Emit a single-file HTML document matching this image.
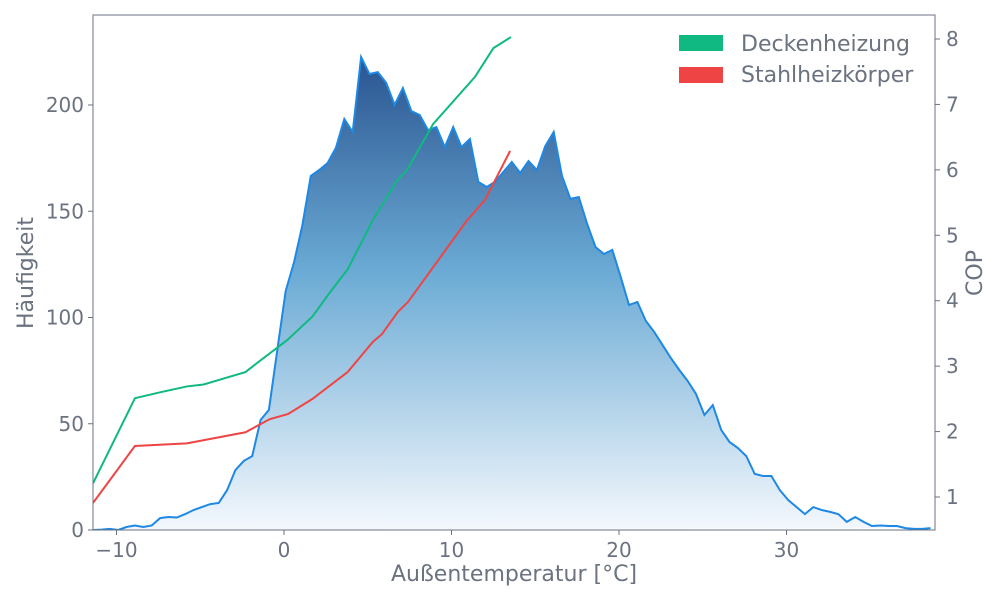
<!DOCTYPE html>
<html><head><meta charset="utf-8"><style>
body{margin:0;background:#fff;font-family:"DejaVu Sans",sans-serif}
svg text{fill:#6b7280;font-family:"DejaVu Sans",sans-serif}
</style></head><body>
<svg id="chart" width="1000" height="600" xmlns="http://www.w3.org/2000/svg">
<defs>
<linearGradient id="g" x1="0" y1="0" x2="0" y2="1"><stop offset="0" stop-color="#2a5490"/><stop offset="0.45" stop-color="#6aaad4"/><stop offset="1" stop-color="#f4f8fd"/></linearGradient>
<clipPath id="clip"><rect x="93" y="15" width="842" height="515"/></clipPath>
</defs>
<g id="plot" clip-path="url(#clip)"></g>
<g id="axes"></g>
</svg>
<script>
const histTemps=[];for(let i=0;i<102;i++)histTemps.push(-11.4+0.5*i);
const histCounts=[0,0.2,0.5,0,1.4,2.1,1.4,2.1,5.6,6.1,5.9,7.5,9.4,10.8,12.2,12.7,18.8,28.2,32.5,34.8,51.8,56.5,84.7,112.5,126.1,143.5,166.6,169.4,172.7,179.8,193.4,187.3,222.6,214.6,215.5,210.4,200,208,197.2,195.3,188.2,189.6,180.2,189.6,180.2,184,163.8,161.4,163.8,168.5,173.2,168,173.6,169.4,180.7,187.3,166.6,155.8,156.7,144,133.2,129.9,131.8,119.1,105.9,107.3,98.4,93.2,87.1,80.9,75.3,70.1,64,54.1,58.8,47.1,41.4,38.6,34.8,26.4,25.4,25.4,18.8,14.1,10.8,7.5,10.8,9.4,8.5,7.5,3.8,6.1,3.8,1.9,2.1,1.9,1.9,0.9,0.5,0.5,0.9];
const deckeTemps=[-11.4,-8.9,-7.4,-5.8,-4.8,-2.3,-1.85,0.2,1.7,2.75,3.8,5.3,6.75,7.35,8.9,11.4,12.5,13.55];
const deckeCop=[1.21,2.51,2.6,2.69,2.72,2.91,3.0,3.4,3.76,4.13,4.48,5.23,5.84,6.0,6.7,7.42,7.86,8.03];
const stahlTemps=[-11.4,-8.9,-5.8,-2.3,-0.85,0.25,1.7,3.8,5.3,5.85,6.8,7.4,8.9,10.9,12.0,13.5];
const stahlCop=[0.91,1.78,1.82,1.99,2.19,2.27,2.5,2.91,3.37,3.49,3.83,3.98,4.51,5.22,5.54,6.29];
const xTicks=[-10,0,10,20,30];
const yTicks=[0,50,100,150,200];
const y2Ticks=[1,2,3,4,5,6,7,8];
const X0=93,X1=935,Y0=530,Y1=15;
const xS=t=>284+(t-0)*16.75;
const yS=v=>530-v*2.125;
const y2S=c=>39+(8-c)*65.43;
const NS='http://www.w3.org/2000/svg';
function mk(tag,attrs,parent,txt){const e=document.createElementNS(NS,tag);for(const k in attrs)e.setAttribute(k,attrs[k]);if(txt!==undefined)e.textContent=txt;parent.appendChild(e);return e;}
const plot=document.getElementById('plot'),axes=document.getElementById('axes');
let pts=histTemps.map((t,i)=>xS(t).toFixed(1)+','+yS(histCounts[i]).toFixed(1));
const area=mk('path',{d:'M'+xS(histTemps[0])+','+Y0+' L'+pts.join(' L')+' L'+xS(histTemps[histTemps.length-1])+','+Y0+' Z',fill:'url(#g)'},plot);


const hl=mk('polyline',{points:pts.join(' '),fill:'none',stroke:'#1e88e5','stroke-width':2},plot);


const gl=mk('polyline',{points:deckeTemps.map((t,i)=>xS(t)+','+y2S(deckeCop[i])).join(' '),fill:'none',stroke:'#10b981','stroke-width':2},plot);


const rl=mk('polyline',{points:stahlTemps.map((t,i)=>xS(t)+','+y2S(stahlCop[i])).join(' '),fill:'none',stroke:'#ef4444','stroke-width':2},plot);


const fr=mk('rect',{x:X0,y:Y1,width:X1-X0,height:Y0-Y1,fill:'none',stroke:'#6b7280','stroke-width':1},axes);


xTicks.forEach(t=>{const x=xS(t);mk('line',{x1:x,x2:x,y1:Y0,y2:Y0+5,stroke:'#6b7280'},axes);
const l=mk('text',{x:x,y:557,'text-anchor':'middle','font-size':20},axes,t<0?'\u2212'+Math.abs(t):String(t));

});
yTicks.forEach(v=>{const y=yS(v);mk('line',{x1:X0-5,x2:X0,y1:y,y2:y,stroke:'#6b7280'},axes);
const l=mk('text',{x:84,y:y+7,'text-anchor':'end','font-size':20},axes,String(v));

});
y2Ticks.forEach(v=>{const y=y2S(v);mk('line',{x1:X1,x2:X1+5,y1:y,y2:y,stroke:'#6b7280'},axes);
const l=mk('text',{x:946,y:y+7,'font-size':20},axes,String(v));

});
</script>
<svg style="position:absolute;left:0;top:0" width="1000" height="600" xmlns="http://www.w3.org/2000/svg">
<text x="514" y="581" text-anchor="middle" font-size="22">Außentemperatur [°C]</text>
<text transform="translate(33,273) rotate(-90)" text-anchor="middle" font-size="22">Häufigkeit</text>
<text transform="translate(982,273) rotate(-90)" text-anchor="middle" font-size="22">COP</text>
<g>
<rect x="679" y="35" width="44" height="16" fill="#10b981"/>
<text x="741" y="51" font-size="22">Deckenheizung</text>
<rect x="679" y="67" width="44" height="16" fill="#ef4444"/>
<text x="741" y="82" font-size="22">Stahlheizkörper</text>
</g>
</svg>
</body></html>
